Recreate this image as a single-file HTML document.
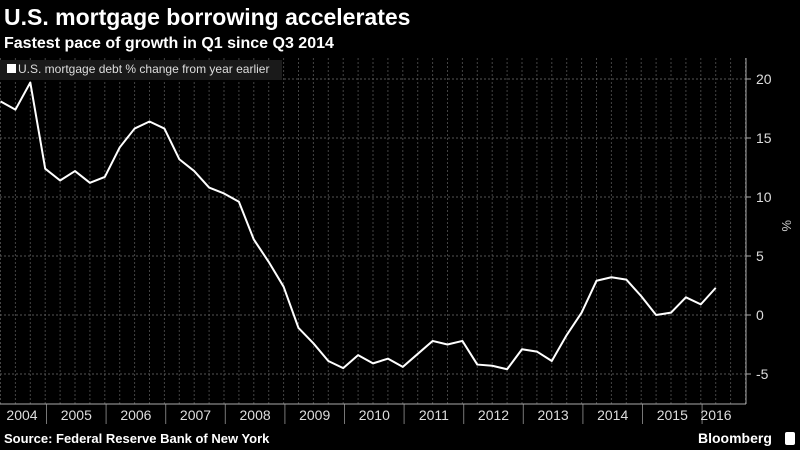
<!DOCTYPE html>
<html><head><meta charset="utf-8"><style>
body{margin:0;background:#000;width:800px;height:450px;overflow:hidden;font-family:"Liberation Sans",sans-serif;color:#fff}
</style></head><body>
<svg width="800" height="450" style="position:absolute;left:0;top:0">
<text x="4" y="25" font-size="23" font-weight="bold" fill="#fff">U.S. mortgage borrowing accelerates</text>
<text x="4" y="48" font-size="16" font-weight="bold" fill="#fff">Fastest pace of growth in Q1 since Q3 2014</text>
<g id="grid"></g>
<g id="xaxis"></g>
<g id="yaxis"></g>
<rect x="0" y="60" width="282" height="20" fill="#1a1a1a"/>
<rect x="7" y="64" width="9" height="9" fill="#fff"/>
<text x="18" y="73" font-size="12" fill="#ddd">U.S. mortgage debt % change from year earlier</text>
<line x1="746" y1="58" x2="746" y2="404" stroke="#aaa"/>
<line x1="0" y1="404" x2="746" y2="404" stroke="#aaa"/>
<polyline id="line" fill="none" stroke="#fff" stroke-width="2" stroke-linejoin="round"/>
<text x="782" y="220" font-size="13" fill="#ccc" transform="rotate(90 782 220)">%</text>
<text x="4" y="443" font-size="13" font-weight="bold" fill="#fff">Source: Federal Reserve Bank of New York</text>
<text x="698" y="443" font-size="14" font-weight="bold" fill="#fff">Bloomberg</text>
<rect x="785" y="432" width="10" height="13" rx="2" fill="#fff"/>
</svg>
<script>
const values=[18.1,17.4,19.7,12.4,11.4,12.2,11.2,11.7,14.2,15.8,16.4,15.8,13.2,12.2,10.8,10.3,9.6,6.4,4.5,2.4,-1.1,-2.4,-3.9,-4.5,-3.4,-4.1,-3.7,-4.4,-3.3,-2.2,-2.5,-2.2,-4.2,-4.3,-4.6,-2.9,-3.1,-3.9,-1.7,0.2,2.9,3.2,3.0,1.6,0.0,0.2,1.5,0.9,2.3];
const yTicks=[20,15,10,5,0,-5];
const years=["2004","2005","2006","2007","2008","2009","2010","2011","2012","2013","2014","2015","2016"];
const NS="http://www.w3.org/2000/svg";
function yS(v){return 315-v*11.8;}
function xS(i){return 0.5+i*14.9;}
function mk(t,a,p){const e=document.createElementNS(NS,t);for(const k in a)e.setAttribute(k,a[k]);p.appendChild(e);return e;}
const grid=document.getElementById('grid'),xa=document.getElementById('xaxis'),ya=document.getElementById('yaxis');
for(let i=0;i<52;i++){const x=xS(i);if(x>746)break;
 const l=mk('line',{x1:x,y1:58,x2:x,y2:404,stroke:'#444','stroke-dasharray':'2,2'},grid);
 
 }
yTicks.forEach(v=>{const y=yS(v);
 const l=mk('line',{x1:0,y1:y,x2:746,y2:y,stroke:'#555','stroke-dasharray':'2,2'},grid);
 
 
 const tk=mk('line',{x1:746,y1:y,x2:751,y2:y,stroke:'#aaa'},ya);
 
 
 const t=mk('text',{x:756,y:y+5,'font-size':14,fill:'#ddd'},ya);t.textContent=v;
 
 });
years.forEach((yr,k)=>{const x0=46.5+(k-1)*59.6,x1=x0+59.6;
 if(k>0){const s=mk('line',{x1:x0,y1:404,x2:x0,y2:424,stroke:'#777'},xa);
 
 }
 const cx=k==0?22:(k==12?716:(x0+x1)/2);
 const t=mk('text',{x:cx,y:420,'font-size':14,fill:'#ddd','text-anchor':'middle'},xa);t.textContent=yr;
 
 });
document.getElementById('line').setAttribute('points',values.map((v,i)=>xS(i)+','+yS(v)).join(' '));
</script>
</body></html>
